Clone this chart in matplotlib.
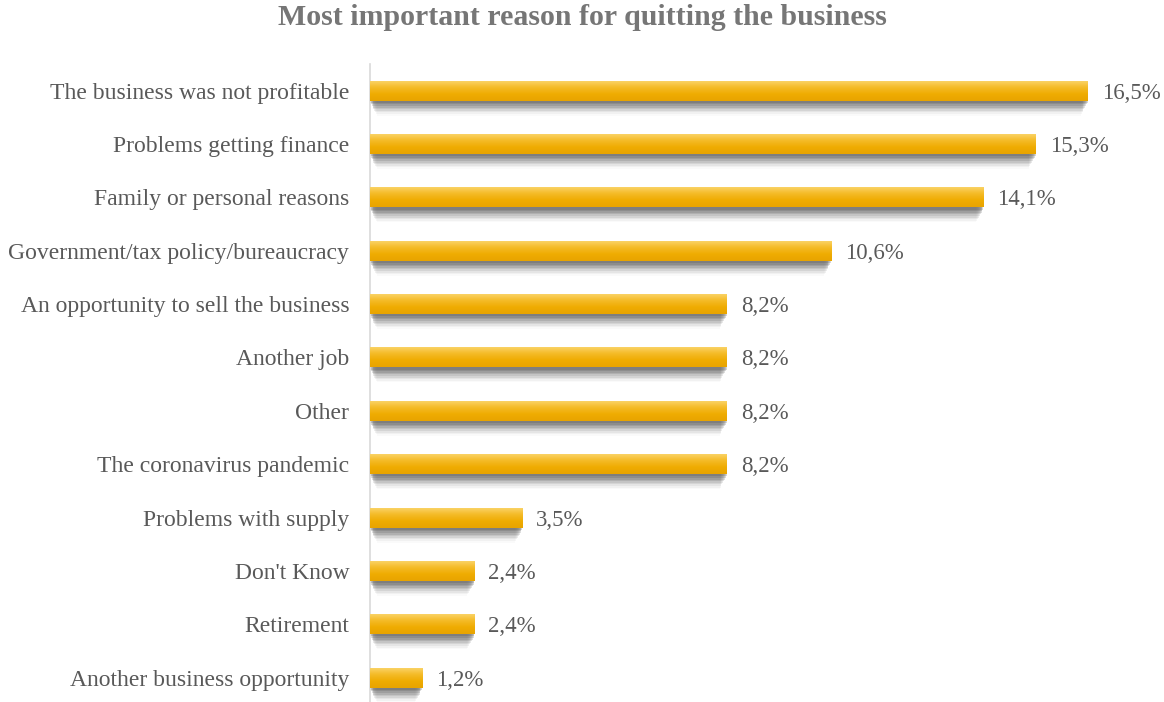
import numpy as np
import matplotlib
matplotlib.use("Agg")
import matplotlib.pyplot as plt
from matplotlib.colors import LinearSegmentedColormap
from matplotlib.patches import Rectangle

reasons = [
    "The business was not profitable",
    "Problems getting finance",
    "Family or personal reasons",
    "Government/tax policy/bureaucracy",
    "An opportunity to sell the business",
    "Another job",
    "Other",
    "The coronavirus pandemic",
    "Problems with supply",
    "Don't Know",
    "Retirement",
    "Another business opportunity",
]
shares = [16.5, 15.3, 14.1, 10.6, 8.2, 8.2, 8.2, 8.2, 3.5, 2.4, 2.4, 1.2]
value_labels = ["16,5%", "15,3%", "14,1%", "10,6%", "8,2%", "8,2%", "8,2%",
                "8,2%", "3,5%", "2,4%", "2,4%", "1,2%"]
title = "Most important reason for quitting the business"

plt.rcParams["font.family"] = ["Liberation Serif", "DejaVu Serif"]

W, H = 1164, 702
fig = plt.figure(figsize=(W / 100, H / 100), dpi=100)
ax_left, ax_right = 370, 1150
ax_top, ax_bottom = 64, 0
ax = fig.add_axes([ax_left / W, ax_bottom / H, (ax_right - ax_left) / W,
                   (H - ax_top - ax_bottom) / H])

px_per_unit = 43.5
xmax = (ax_right - ax_left) / px_per_unit
spacing = 53.36
span = (H - ax_top - ax_bottom) / spacing

bar_h = 0.375
y = np.arange(len(reasons))

grad_cmap = LinearSegmentedColormap.from_list(
    "gold", ["#FBD66E", "#F5BC2A", "#EFAC02", "#E8A400"])
grad = np.linspace(0, 1, 64).reshape(-1, 1)

# soft drop shadow under each bar
for yi, v in zip(y, shares):
    for k in range(9):
        off = 0.04 + k * 0.03
        alpha = 0.22 * (1 - k / 9)
        ax.barh(yi + off, v - 0.04 * k, height=bar_h, left=0.02 * k,
                color="#4A4A4A", alpha=alpha, linewidth=0, zorder=1)

# gradient-filled bars
for yi, v in zip(y, shares):
    rect = Rectangle((0, yi - bar_h / 2), v, bar_h, facecolor="none",
                     edgecolor="none", zorder=3)
    ax.add_patch(rect)
    im = ax.imshow(grad, cmap=grad_cmap, aspect="auto",
                   extent=(0, v, yi + bar_h / 2, yi - bar_h / 2),
                   interpolation="bilinear", zorder=3)
    im.set_clip_path(rect)

ax.set_xlim(0, xmax)
ax.set_ylim(span - 0.5, -0.5)

for yi, v, lab in zip(y, shares, value_labels):
    ax.text(v + 14 / px_per_unit, yi, lab, va="center_baseline", ha="left",
            fontsize=16.5, color="#595959", zorder=4)

ax.set_yticks(y)
ax.set_yticklabels(reasons, fontsize=17, color="#595959")
ax.tick_params(axis="y", length=0, pad=15)
ax.set_xticks([])
for side in ("top", "right", "bottom"):
    ax.spines[side].set_visible(False)
ax.spines["left"].set_color("#D9D9D9")
ax.spines["left"].set_linewidth(1.2)
ax.spines["left"].set_bounds(span - 0.5, -0.5)

fig.text(0.5, 1 - 25 / H, title, ha="center", va="baseline",
         fontsize=21.5, fontweight="bold", color="#767676")

fig.savefig("out.png", dpi=100)
